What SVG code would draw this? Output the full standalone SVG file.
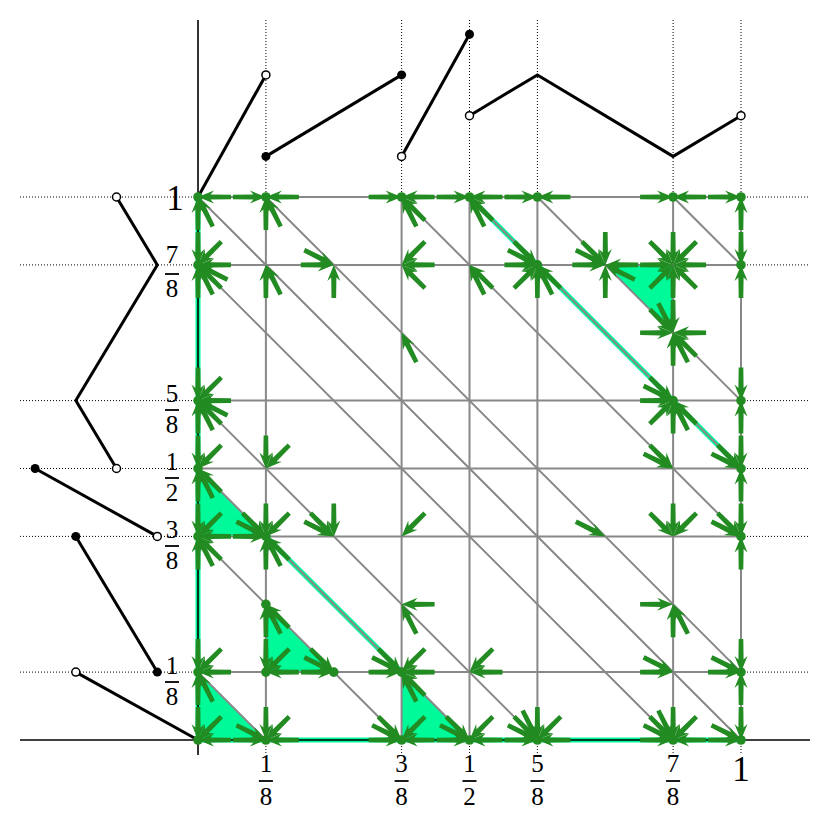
<svg xmlns="http://www.w3.org/2000/svg" xmlns:xlink="http://www.w3.org/1999/xlink" width="831" height="820" viewBox="0 0 831 820">
<style>
.g{stroke:#888;stroke-width:2;fill:none}
.d{stroke:#000;stroke-width:1;stroke-dasharray:1 2;fill:none}
.ax{stroke:#000;stroke-width:1.6;fill:none}
.hl{stroke:#00FA9A;stroke-width:5;fill:none}
.tri{fill:#00FA9A}
.f{stroke:#000;stroke-width:3;fill:none;stroke-linejoin:miter}
.fd{fill:#000}
.od{fill:#fff;stroke:#000;stroke-width:1.5}
.arr use{fill:#228B22}
.arr circle{fill:#228B22}
text{font-family:"Liberation Serif","DejaVu Serif",serif;font-size:25px;text-anchor:middle;fill:#000}
.big{font-size:35px}
.bar{stroke:#000;stroke-width:1.8}
</style>
<defs>
<path id="a" d="M0,0 L16,-6.5 L12.5,-2.6 L33,-2.3 L33,2.3 L12.5,2.6 L16,6.5 Z"/>
</defs>
<rect width="831" height="820" fill="#fff"/>
<g id="fills">
<polygon class="tri" points="198,468.5 198,536.4 265.9,536.4"/>
<polygon class="tri" points="198,672.1 198,740 265.9,740"/>
<polygon class="tri" points="265.9,604.3 265.9,672.1 333.8,672.1"/>
<polygon class="tri" points="401.6,672.1 401.6,740 469.5,740"/>
<polygon class="tri" points="605.3,264.9 673.1,264.9 673.1,332.8"/>
<line class="hl" x1="469.5" y1="197" x2="741" y2="468.5"/>
<line class="hl" x1="265.9" y1="536.4" x2="401.6" y2="672.1"/>
<line class="hl" x1="198" y1="197" x2="198" y2="740"/>
<line class="hl" x1="198" y1="740" x2="741" y2="740"/>
</g>
<g id="connectors">
<g id="grid">
<line class="g" x1="265.9" y1="197" x2="265.9" y2="740"/>
<line class="g" x1="401.6" y1="197" x2="401.6" y2="740"/>
<line class="g" x1="469.5" y1="197" x2="469.5" y2="740"/>
<line class="g" x1="537.4" y1="197" x2="537.4" y2="740"/>
<line class="g" x1="673.1" y1="197" x2="673.1" y2="740"/>
<line class="g" x1="741" y1="197" x2="741" y2="740"/>
<line class="g" x1="198" y1="197" x2="741" y2="197"/>
<line class="g" x1="198" y1="264.9" x2="741" y2="264.9"/>
<line class="g" x1="198" y1="400.6" x2="741" y2="400.6"/>
<line class="g" x1="198" y1="468.5" x2="741" y2="468.5"/>
<line class="g" x1="198" y1="536.4" x2="741" y2="536.4"/>
<line class="g" x1="198" y1="672.1" x2="741" y2="672.1"/>
</g>
<g id="diagonals">
<line class="g" x1="198" y1="672.1" x2="265.9" y2="740"/>
<line class="g" x1="198" y1="536.4" x2="401.6" y2="740"/>
<line class="g" x1="198" y1="468.5" x2="469.5" y2="740"/>
<line class="g" x1="198" y1="400.6" x2="537.4" y2="740"/>
<line class="g" x1="198" y1="264.9" x2="673.1" y2="740"/>
<line class="g" x1="198" y1="197" x2="741" y2="740"/>
<line class="g" x1="265.9" y1="197" x2="741" y2="672.1"/>
<line class="g" x1="401.6" y1="197" x2="741" y2="536.4"/>
<line class="g" x1="469.5" y1="197" x2="741" y2="468.5"/>
<line class="g" x1="537.4" y1="197" x2="741" y2="400.6"/>
<line class="g" x1="673.1" y1="197" x2="741" y2="264.9"/>
</g>
<g id="dotted">
<line class="d" x1="265.9" y1="20" x2="265.9" y2="197"/>
<line class="d" x1="401.6" y1="20" x2="401.6" y2="197"/>
<line class="d" x1="469.5" y1="20" x2="469.5" y2="197"/>
<line class="d" x1="537.4" y1="20" x2="537.4" y2="197"/>
<line class="d" x1="673.1" y1="20" x2="673.1" y2="197"/>
<line class="d" x1="741" y1="20" x2="741" y2="197"/>
<line class="d" x1="265.9" y1="740" x2="265.9" y2="755"/>
<line class="d" x1="401.6" y1="740" x2="401.6" y2="755"/>
<line class="d" x1="469.5" y1="740" x2="469.5" y2="755"/>
<line class="d" x1="537.4" y1="740" x2="537.4" y2="755"/>
<line class="d" x1="673.1" y1="740" x2="673.1" y2="755"/>
<line class="d" x1="741" y1="740" x2="741" y2="755"/>
<line class="d" x1="20" y1="197" x2="198" y2="197"/>
<line class="d" x1="20" y1="264.9" x2="198" y2="264.9"/>
<line class="d" x1="20" y1="400.6" x2="198" y2="400.6"/>
<line class="d" x1="20" y1="468.5" x2="198" y2="468.5"/>
<line class="d" x1="20" y1="536.4" x2="198" y2="536.4"/>
<line class="d" x1="20" y1="672.1" x2="198" y2="672.1"/>
<line class="d" x1="741" y1="197" x2="810" y2="197"/>
<line class="d" x1="741" y1="264.9" x2="810" y2="264.9"/>
<line class="d" x1="741" y1="400.6" x2="810" y2="400.6"/>
<line class="d" x1="741" y1="468.5" x2="810" y2="468.5"/>
<line class="d" x1="741" y1="536.4" x2="810" y2="536.4"/>
<line class="d" x1="741" y1="672.1" x2="810" y2="672.1"/>
</g>
<g id="axes">
<line class="ax" x1="20" y1="740" x2="810" y2="740"/>
<line class="ax" x1="198" y1="20" x2="198" y2="755"/>
</g>
</g>
<g id="graph-top">
<polyline class="f" points="198,197 265.9,74.9"/>
<polyline class="f" points="265.9,156.4 401.6,74.9"/>
<polyline class="f" points="401.6,156.4 469.5,34.2"/>
<polyline class="f" points="469.5,115.7 537.4,74.9 673.1,156.4 741,115.7"/>
<circle class="od" cx="265.9" cy="74.9" r="4"/>
<circle class="fd" cx="265.9" cy="156.4" r="4.5"/>
<circle class="fd" cx="401.6" cy="74.9" r="4.5"/>
<circle class="od" cx="401.6" cy="156.4" r="4"/>
<circle class="fd" cx="469.5" cy="34.2" r="4.5"/>
<circle class="od" cx="469.5" cy="115.7" r="4"/>
<circle class="od" cx="741" cy="115.7" r="4"/>
</g>
<g id="graph-left">
<polyline class="f" points="116.5,197 157.3,264.9 75.8,400.6 116.5,468.5"/>
<polyline class="f" points="35.1,468.5 157.3,536.4"/>
<polyline class="f" points="75.8,536.4 157.3,672.1"/>
<polyline class="f" points="75.8,672.1 198,740"/>
<circle class="od" cx="116.5" cy="197" r="4"/>
<circle class="od" cx="116.5" cy="468.5" r="4"/>
<circle class="fd" cx="35.1" cy="468.5" r="4.5"/>
<circle class="od" cx="157.3" cy="536.4" r="4"/>
<circle class="fd" cx="75.8" cy="536.4" r="4.5"/>
<circle class="fd" cx="157.3" cy="672.1" r="4.5"/>
<circle class="od" cx="75.8" cy="672.1" r="4"/>
</g>
<g class="arr">
<g id="n08" transform="translate(198,197)"><use href="#a" transform="rotate(0)"/><use href="#a" transform="rotate(90)"/><use href="#a" transform="rotate(63.43)"/><circle r="4.8"/></g>
<g id="n18" transform="translate(265.9,197)"><use href="#a" transform="rotate(180)"/><use href="#a" transform="rotate(0)"/><use href="#a" transform="rotate(90)"/><use href="#a" transform="rotate(63.43)"/><circle r="4.8"/></g>
<g id="n38" transform="translate(401.6,197)"><use href="#a" transform="rotate(180)"/><use href="#a" transform="rotate(0)"/><use href="#a" transform="rotate(63.43)"/><use href="#a" transform="rotate(45)"/><circle r="4.8"/></g>
<g id="n48" transform="translate(469.5,197)"><use href="#a" transform="rotate(180)"/><use href="#a" transform="rotate(0)"/><use href="#a" transform="rotate(63.43)"/><use href="#a" transform="rotate(45)"/><circle r="4.8"/></g>
<g id="n58" transform="translate(537.4,197)"><use href="#a" transform="rotate(180)"/><use href="#a" transform="rotate(0)"/><circle r="4.8"/></g>
<g id="n78" transform="translate(673.1,197)"><use href="#a" transform="rotate(180)"/><use href="#a" transform="rotate(0)"/><circle r="4.8"/></g>
<g id="n88" transform="translate(741,197)"><use href="#a" transform="rotate(180)"/><use href="#a" transform="rotate(90)"/><circle r="4.8"/></g>
<g id="n07" transform="translate(198,264.9)"><use href="#a" transform="rotate(270)"/><use href="#a" transform="rotate(0)"/><use href="#a" transform="rotate(315)"/><use href="#a" transform="rotate(90)"/><use href="#a" transform="rotate(26.57)"/><use href="#a" transform="rotate(45)"/><use href="#a" transform="rotate(63.43)"/><circle r="4.8"/></g>
<g id="n17" transform="translate(265.9,264.9)"><use href="#a" transform="rotate(90)"/><use href="#a" transform="rotate(63.43)"/></g>
<g id="n27" transform="translate(333.8,264.9)"><use href="#a" transform="rotate(180)"/><use href="#a" transform="rotate(206.57)"/><use href="#a" transform="rotate(90)"/></g>
<g id="n37" transform="translate(401.6,264.9)"><use href="#a" transform="rotate(0)"/><use href="#a" transform="rotate(315)"/><use href="#a" transform="rotate(45)"/></g>
<g id="n47" transform="translate(469.5,264.9)"><use href="#a" transform="rotate(63.43)"/><use href="#a" transform="rotate(45)"/></g>
<g id="n57" transform="translate(537.4,264.9)"><use href="#a" transform="rotate(180)"/><use href="#a" transform="rotate(206.57)"/><use href="#a" transform="rotate(225)"/><use href="#a" transform="rotate(135)"/><use href="#a" transform="rotate(90)"/><use href="#a" transform="rotate(63.43)"/><use href="#a" transform="rotate(45)"/><circle r="4.8"/></g>
<g id="n67" transform="translate(605.3,264.9)"><use href="#a" transform="rotate(270)"/><use href="#a" transform="rotate(180)"/><use href="#a" transform="rotate(206.57)"/><use href="#a" transform="rotate(225)"/><use href="#a" transform="rotate(90)"/><use href="#a" transform="rotate(26.57)"/><use href="#a" transform="rotate(0)"/></g>
<g id="n77" transform="translate(673.1,264.9)"><use href="#a" transform="rotate(270)"/><use href="#a" transform="rotate(225)"/><use href="#a" transform="rotate(315)"/><use href="#a" transform="rotate(180)"/><use href="#a" transform="rotate(0)"/><use href="#a" transform="rotate(135)"/><use href="#a" transform="rotate(45)"/><use href="#a" transform="rotate(90)"/></g>
<g id="n87" transform="translate(741,264.9)"><use href="#a" transform="rotate(270)"/><use href="#a" transform="rotate(90)"/><circle r="4.8"/></g>
<g id="n76" transform="translate(673.1,332.8)"><use href="#a" transform="rotate(180)"/><use href="#a" transform="rotate(0)"/><use href="#a" transform="rotate(270)"/><use href="#a" transform="rotate(225)"/><use href="#a" transform="rotate(243.43)"/><use href="#a" transform="rotate(90)"/><use href="#a" transform="rotate(63.43)"/><use href="#a" transform="rotate(45)"/></g>
<g id="n36" transform="translate(401.6,332.8)"><use href="#a" transform="rotate(63.43)"/></g>
<g id="n05" transform="translate(198,400.6)"><use href="#a" transform="rotate(270)"/><use href="#a" transform="rotate(0)"/><use href="#a" transform="rotate(315)"/><use href="#a" transform="rotate(26.57)"/><use href="#a" transform="rotate(45)"/><use href="#a" transform="rotate(63.43)"/><use href="#a" transform="rotate(90)"/><circle r="4.8"/></g>
<g id="n75" transform="translate(673.1,400.6)"><use href="#a" transform="rotate(180)"/><use href="#a" transform="rotate(206.57)"/><use href="#a" transform="rotate(225)"/><use href="#a" transform="rotate(135)"/><use href="#a" transform="rotate(90)"/><use href="#a" transform="rotate(63.43)"/><use href="#a" transform="rotate(45)"/><circle r="4.8"/></g>
<g id="n85" transform="translate(741,400.6)"><use href="#a" transform="rotate(270)"/><use href="#a" transform="rotate(90)"/><circle r="4.8"/></g>
<g id="n04" transform="translate(198,468.5)"><use href="#a" transform="rotate(270)"/><use href="#a" transform="rotate(315)"/><use href="#a" transform="rotate(90)"/><use href="#a" transform="rotate(63.43)"/><use href="#a" transform="rotate(45)"/><circle r="4.8"/></g>
<g id="n14" transform="translate(265.9,468.5)"><use href="#a" transform="rotate(270)"/><use href="#a" transform="rotate(315)"/></g>
<g id="n74" transform="translate(673.1,468.5)"><use href="#a" transform="rotate(225)"/><use href="#a" transform="rotate(206.57)"/></g>
<g id="n84" transform="translate(741,468.5)"><use href="#a" transform="rotate(270)"/><use href="#a" transform="rotate(90)"/><use href="#a" transform="rotate(225)"/><use href="#a" transform="rotate(206.57)"/><circle r="4.8"/></g>
<g id="n03" transform="translate(198,536.4)"><use href="#a" transform="rotate(270)"/><use href="#a" transform="rotate(315)"/><use href="#a" transform="rotate(0)"/><use href="#a" transform="rotate(90)"/><use href="#a" transform="rotate(63.43)"/><use href="#a" transform="rotate(45)"/><circle r="4.8"/></g>
<g id="n13" transform="translate(265.9,536.4)"><use href="#a" transform="rotate(225)"/><use href="#a" transform="rotate(206.57)"/><use href="#a" transform="rotate(180)"/><use href="#a" transform="rotate(270)"/><use href="#a" transform="rotate(315)"/><use href="#a" transform="rotate(90)"/><use href="#a" transform="rotate(63.43)"/><use href="#a" transform="rotate(45)"/><circle r="4.8"/></g>
<g id="n23" transform="translate(333.8,536.4)"><use href="#a" transform="rotate(206.57)"/><use href="#a" transform="rotate(225)"/><use href="#a" transform="rotate(270)"/></g>
<g id="n33" transform="translate(401.6,536.4)"><use href="#a" transform="rotate(315)"/></g>
<g id="n63" transform="translate(605.3,536.4)"><use href="#a" transform="rotate(206.57)"/></g>
<g id="n73" transform="translate(673.1,536.4)"><use href="#a" transform="rotate(270)"/><use href="#a" transform="rotate(225)"/><use href="#a" transform="rotate(315)"/></g>
<g id="n83" transform="translate(741,536.4)"><use href="#a" transform="rotate(270)"/><use href="#a" transform="rotate(90)"/><use href="#a" transform="rotate(225)"/><use href="#a" transform="rotate(206.57)"/><circle r="4.8"/></g>
<g id="n12" transform="translate(265.9,604.3)"><use href="#a" transform="rotate(90)"/><use href="#a" transform="rotate(63.43)"/><use href="#a" transform="rotate(45)"/><circle r="4.8"/></g>
<g id="n32" transform="translate(401.6,604.3)"><use href="#a" transform="rotate(0)"/><use href="#a" transform="rotate(63.43)"/></g>
<g id="n72" transform="translate(673.1,604.3)"><use href="#a" transform="rotate(180)"/><use href="#a" transform="rotate(90)"/><use href="#a" transform="rotate(63.43)"/></g>
<g id="n01" transform="translate(198,672.1)"><use href="#a" transform="rotate(270)"/><use href="#a" transform="rotate(315)"/><use href="#a" transform="rotate(0)"/><use href="#a" transform="rotate(90)"/><use href="#a" transform="rotate(63.43)"/><circle r="4.8"/></g>
<g id="n11" transform="translate(265.9,672.1)"><use href="#a" transform="rotate(270)"/><use href="#a" transform="rotate(315)"/><use href="#a" transform="rotate(0)"/><circle r="4.8"/></g>
<g id="n21" transform="translate(333.8,672.1)"><use href="#a" transform="rotate(180)"/><use href="#a" transform="rotate(206.57)"/><use href="#a" transform="rotate(225)"/><circle r="4.8"/></g>
<g id="n31" transform="translate(401.6,672.1)"><use href="#a" transform="rotate(180)"/><use href="#a" transform="rotate(206.57)"/><use href="#a" transform="rotate(225)"/><use href="#a" transform="rotate(315)"/><use href="#a" transform="rotate(0)"/><use href="#a" transform="rotate(63.43)"/><use href="#a" transform="rotate(45)"/><circle r="4.8"/></g>
<g id="n41" transform="translate(469.5,672.1)"><use href="#a" transform="rotate(0)"/><use href="#a" transform="rotate(315)"/></g>
<g id="n71" transform="translate(673.1,672.1)"><use href="#a" transform="rotate(180)"/><use href="#a" transform="rotate(206.57)"/></g>
<g id="n81" transform="translate(741,672.1)"><use href="#a" transform="rotate(180)"/><use href="#a" transform="rotate(206.57)"/><use href="#a" transform="rotate(270)"/><use href="#a" transform="rotate(90)"/><circle r="4.8"/></g>
<g id="n00" transform="translate(198,740)"><use href="#a" transform="rotate(270)"/><use href="#a" transform="rotate(315)"/><use href="#a" transform="rotate(0)"/><circle r="4.8"/></g>
<g id="n10" transform="translate(265.9,740)"><use href="#a" transform="rotate(180)"/><use href="#a" transform="rotate(206.57)"/><use href="#a" transform="rotate(270)"/><use href="#a" transform="rotate(315)"/><use href="#a" transform="rotate(0)"/><circle r="4.8"/></g>
<g id="n30" transform="translate(401.6,740)"><use href="#a" transform="rotate(180)"/><use href="#a" transform="rotate(206.57)"/><use href="#a" transform="rotate(225)"/><use href="#a" transform="rotate(0)"/><use href="#a" transform="rotate(315)"/><circle r="4.8"/></g>
<g id="n40" transform="translate(469.5,740)"><use href="#a" transform="rotate(180)"/><use href="#a" transform="rotate(206.57)"/><use href="#a" transform="rotate(225)"/><use href="#a" transform="rotate(0)"/><use href="#a" transform="rotate(315)"/><circle r="4.8"/></g>
<g id="n50" transform="translate(537.4,740)"><use href="#a" transform="rotate(180)"/><use href="#a" transform="rotate(206.57)"/><use href="#a" transform="rotate(225)"/><use href="#a" transform="rotate(243.43)"/><use href="#a" transform="rotate(270)"/><use href="#a" transform="rotate(315)"/><use href="#a" transform="rotate(0)"/><circle r="4.8"/></g>
<g id="n70" transform="translate(673.1,740)"><use href="#a" transform="rotate(180)"/><use href="#a" transform="rotate(206.57)"/><use href="#a" transform="rotate(225)"/><use href="#a" transform="rotate(243.43)"/><use href="#a" transform="rotate(270)"/><use href="#a" transform="rotate(315)"/><use href="#a" transform="rotate(0)"/><circle r="4.8"/></g>
<g id="n80" transform="translate(741,740)"><use href="#a" transform="rotate(180)"/><use href="#a" transform="rotate(206.57)"/><use href="#a" transform="rotate(270)"/><circle r="4.8"/></g>
</g>
<g id="labels">
<text class="big" x="175" y="210">1</text>
<text x="172" y="263">7</text><line class="bar" x1="165" y1="274" x2="179" y2="274"/><text x="172" y="297">8</text>
<text x="172" y="402">5</text><line class="bar" x1="165" y1="410" x2="179" y2="410"/><text x="172" y="433">8</text>
<text x="172" y="470">1</text><line class="bar" x1="165" y1="478" x2="179" y2="478"/><text x="172" y="501">2</text>
<text x="172" y="538">3</text><line class="bar" x1="165" y1="546" x2="179" y2="546"/><text x="172" y="569">8</text>
<text x="172" y="674">1</text><line class="bar" x1="165" y1="682" x2="179" y2="682"/><text x="172" y="705">8</text>
<text x="265.9" y="772">1</text><line class="bar" x1="258.9" y1="781" x2="272.9" y2="781"/><text x="265.9" y="805">8</text>
<text x="401.6" y="772">3</text><line class="bar" x1="394.6" y1="781" x2="408.6" y2="781"/><text x="401.6" y="805">8</text>
<text x="469.5" y="772">1</text><line class="bar" x1="462.5" y1="781" x2="476.5" y2="781"/><text x="469.5" y="805">2</text>
<text x="537.4" y="772">5</text><line class="bar" x1="530.4" y1="781" x2="544.4" y2="781"/><text x="537.4" y="805">8</text>
<text x="673.1" y="772">7</text><line class="bar" x1="666.1" y1="781" x2="680.1" y2="781"/><text x="673.1" y="805">8</text>
<text class="big" x="741" y="781">1</text>
</g>
</svg>
